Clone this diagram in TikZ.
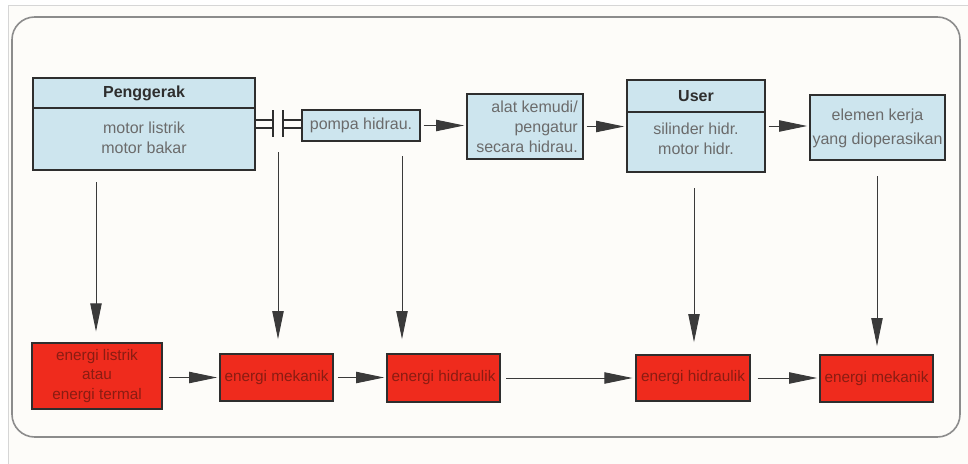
\documentclass[tikz,border=0pt]{standalone}
\usepackage{fontspec}
\setmainfont{Liberation Sans}
\usetikzlibrary{arrows.meta}

\definecolor{paper}{HTML}{FDFCF9}
\definecolor{edge}{HTML}{D6D6D6}
\definecolor{framegray}{HTML}{8C8C8C}
\definecolor{boxblue}{HTML}{CDE5EE}
\definecolor{boxred}{HTML}{EF2B1D}
\definecolor{inkgray}{HTML}{6B6B6B}
\definecolor{inkdark}{HTML}{2E2E2E}
\definecolor{inkred}{HTML}{8A1C12}
\definecolor{linegray}{HTML}{3A3A3A}

\tikzset{
  px/.style 2 args={minimum width=#1*0.75pt, minimum height=#2*0.75pt},
  bluebox/.style={draw=inkdark, line width=1.3pt, fill=boxblue, inner sep=0pt},
  redbox/.style={draw=inkdark, line width=1.3pt, fill=boxred, inner sep=0pt,
    text=inkred, font=\fontsize{11.5}{14.6}\selectfont, align=center},
  label/.style={text=inkgray, font=\fontsize{12}{15}\selectfont, inner sep=0pt},
  title/.style={text=inkdark, font=\fontsize{12}{15}\selectfont\bfseries, inner sep=0pt},
  flow/.style={draw=linegray, line width=0.7pt,
    -{Triangle[length=21pt, width=8.5pt]}, color=linegray},
  shaft/.style={draw=inkdark, line width=1.4pt},
}

\begin{document}
\begin{tikzpicture}[x=0.75pt, y=-0.75pt]
  \useasboundingbox (0,0) rectangle (968,464);
  \fill[white] (0,0) rectangle (968,464);
  \fill[paper] (8,5) rectangle (968,464);
  \draw[edge, line width=0.7pt] (8,464) -- (8,5) -- (968,5);

  % rounded frame
  \draw[framegray, line width=1.2pt, rounded corners=17pt] (12,17) rectangle (960,437);

  % ---------- upper row ----------
  \node[bluebox, px={222}{92}] (peng) at (144,124) {};
  \draw[inkdark, line width=1.3pt] (peng.west |- 0,108) -- (peng.east |- 0,108);
  \node[title] (pengT) at (144,93) {Penggerak};
  \node[label, align=center] (pengL) at (144,138) {motor listrik\\motor bakar};

  \node[bluebox, px={118}{31}] (pompa) at (361,125.5) {};
  \node[label] (pompaL) at (361,125.5) {pompa hidrau.};

  \node[bluebox, px={116}{65}] (alat) at (525,126.5) {};
  \node[label, align=right, anchor=east] (alatL) at (578,127)
    {alat kemudi/\\pengatur\\secara hidrau.};

  \node[bluebox, px={138}{92}] (user) at (696,126) {};
  \draw[inkdark, line width=1.3pt] (user.west |- 0,112) -- (user.east |- 0,112);
  \node[title] (userT) at (696,96) {User};
  \node[label, align=center] (userL) at (696,139) {silinder hidr.\\motor hidr.};

  \node[bluebox, px={135}{65}] (elemen) at (877.5,127.5) {};
  \node[label, align=center] (elemenL) at (877.5,128)
    {elemen kerja\\[3pt]yang dioperasikan};

  % coupling between drive and pump
  \draw[shaft] (peng.east |- 0,120) -- (273,120);
  \draw[shaft] (peng.east |- 0,128) -- (273,128);
  \draw[shaft] (273,110) -- (273,137);
  \draw[shaft] (283,110) -- (283,137);
  \draw[shaft] (283,120) -- (pompa.west |- 0,120);
  \draw[shaft] (283,128) -- (pompa.west |- 0,128);

  % ---------- lower row ----------
  \node[redbox, px={130}{66}] (b1) at (97,376) {energi listrik\\atau\\energi termal};
  \node[redbox, px={113}{47}] (b2) at (276.5,377.5) {energi mekanik};
  \node[redbox, px={113}{48}] (b3) at (443.5,378) {energi hidraulik};
  \node[redbox, px={114}{46}] (b4) at (693,378) {energi hidraulik};
  \node[redbox, px={113}{47}] (b5) at (876.5,378.5) {energi mekanik};

  % free starting points of the vertical arrows
  \coordinate (pengOut) at (96,182);
  \coordinate (cplOut) at (278,152);
  \coordinate (pompaOut) at (402,156);
  \coordinate (userOut) at (694,188);
  \coordinate (elemenOut) at (877,176);

  % horizontal flow, upper row
  \draw[flow, shorten <=2pt, shorten >=1.5pt] (pompa.east) -- (pompa.east -| alat.west);
  \draw[flow, shorten <=2pt, shorten >=1.5pt] (alat.east) -- (alat.east -| user.west);
  \draw[flow, shorten <=2pt, shorten >=1.5pt] (user.east) -- (user.east -| elemen.west);

  % vertical arrows
  \draw[flow, shorten >=8pt] (pengOut) -- (pengOut |- b1.north);
  \draw[flow, shorten >=10.5pt] (cplOut) -- (cplOut |- b2.north);
  \draw[flow, shorten >=10.5pt] (pompaOut) -- (pompaOut |- b3.north);
  \draw[flow, shorten >=9pt] (userOut) -- (userOut |- b4.north);
  \draw[flow, shorten >=6pt] (elemenOut) -- (elemenOut |- b5.north);

  % horizontal flow, lower row
  \draw[flow, shorten <=4.5pt, shorten >=1.5pt] (b2.west -| b1.east) -- (b2.west);
  \draw[flow, shorten <=3pt, shorten >=1.5pt] (b2.east) -- (b2.east -| b3.west);
  \draw[flow, shorten <=4pt, shorten >=2pt] (b3.east) -- (b3.east -| b4.west);
  \draw[flow, shorten <=5pt, shorten >=1.5pt] (b4.east) -- (b4.east -| b5.west);
\end{tikzpicture}
\end{document}
